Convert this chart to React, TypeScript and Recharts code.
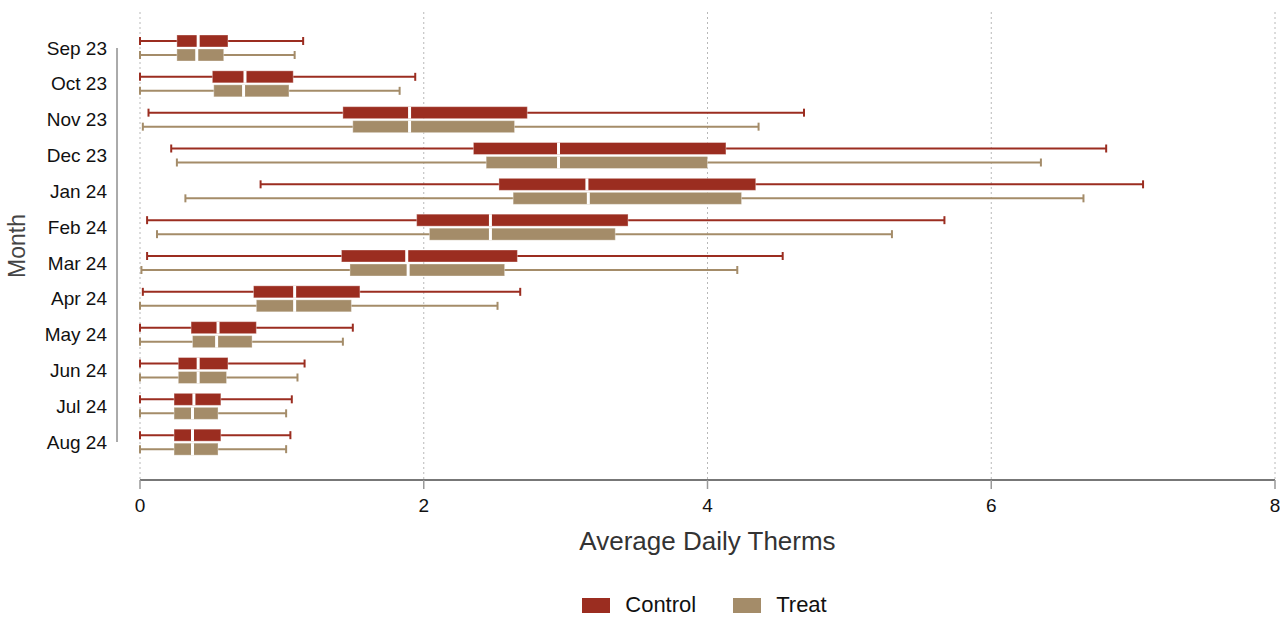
import {
  Bar,
  CartesianGrid,
  ComposedChart,
  Label,
  Legend,
  ReferenceLine,
  XAxis,
  YAxis,
} from "recharts";

const months = [
  "Sep 23",
  "Oct 23",
  "Nov 23",
  "Dec 23",
  "Jan 24",
  "Feb 24",
  "Mar 24",
  "Apr 24",
  "May 24",
  "Jun 24",
  "Jul 24",
  "Aug 24",
];

const controlMin = [0, 0, 0.06, 0.22, 0.85, 0.05, 0.05, 0.02, 0, 0, 0, 0];
const controlQ1 = [0.26, 0.51, 1.43, 2.35, 2.53, 1.95, 1.42, 0.8, 0.36, 0.27, 0.24, 0.24];
const controlMed = [0.41, 0.74, 1.9, 2.95, 3.15, 2.47, 1.88, 1.09, 0.55, 0.41, 0.38, 0.37];
const controlQ3 = [0.62, 1.08, 2.73, 4.13, 4.34, 3.44, 2.66, 1.55, 0.82, 0.62, 0.57, 0.57];
const controlMax = [1.15, 1.94, 4.68, 6.81, 7.07, 5.67, 4.53, 2.68, 1.5, 1.16, 1.07, 1.06];

const treatMin = [0, 0, 0.02, 0.26, 0.32, 0.12, 0.01, 0, 0, 0, 0, 0];
const treatQ1 = [0.26, 0.52, 1.5, 2.44, 2.63, 2.04, 1.48, 0.82, 0.37, 0.27, 0.24, 0.24];
const treatMed = [0.4, 0.73, 1.9, 2.95, 3.16, 2.47, 1.89, 1.09, 0.54, 0.41, 0.37, 0.37];
const treatQ3 = [0.59, 1.05, 2.64, 4.0, 4.24, 3.35, 2.57, 1.49, 0.79, 0.61, 0.55, 0.55];
const treatMax = [1.09, 1.83, 4.36, 6.35, 6.65, 5.3, 4.21, 2.52, 1.43, 1.11, 1.03, 1.03];

const xTicks = [0, 2, 4, 6, 8];

const CONTROL = "#9b2d20";
const TREAT = "#a48c69";
const FONT = '"Liberation Sans", Arial, sans-serif';

const data = months.map((month, i) => ({
  month,
  control: [controlMin[i], controlMax[i]],
  treat: [treatMin[i], treatMax[i]],
  controlBox: [controlQ1[i], controlMed[i], controlQ3[i]],
  treatBox: [treatQ1[i], treatMed[i], treatQ3[i]],
}));

// whisker + box, positioned from the bar's own [min, max] geometry
function BoxShape(props: any) {
  const { x, y, width, height, payload, rangeKey, boxKey, color } = props;
  const [lo, hi] = payload[rangeKey];
  const [q1, med, q3] = payload[boxKey];
  const px = (v: number) => x + ((v - lo) / (hi - lo)) * width;
  const cy = y + height / 2;
  const x0 = px(lo);
  const x1 = px(hi);
  return (
    <g>
      <line x1={x0} x2={x1} y1={cy} y2={cy} stroke={color} strokeWidth={2} />
      <line x1={x0} x2={x0} y1={cy - 4} y2={cy + 4} stroke={color} strokeWidth={2} />
      <line x1={x1} x2={x1} y1={cy - 4} y2={cy + 4} stroke={color} strokeWidth={2} />
      <rect
        x={px(q1)}
        y={y}
        width={px(q3) - px(q1)}
        height={height}
        fill={color}
        stroke="#ffffff"
        strokeOpacity={0.35}
        strokeWidth={1}
      />
      <line x1={px(med)} x2={px(med)} y1={y} y2={y + height} stroke="#ffffff" strokeWidth={3} />
    </g>
  );
}

function LegendContent() {
  const items = [
    { name: "Control", color: CONTROL },
    { name: "Treat", color: TREAT },
  ];
  return (
    <div
      style={{
        display: "flex",
        justifyContent: "center",
        alignItems: "center",
        height: 30,
        fontFamily: FONT,
        fontSize: 22,
        color: "#111",
        gap: 37,
      }}
    >
      {items.map((it) => (
        <div key={it.name} style={{ display: "flex", alignItems: "center" }}>
          <span
            style={{
              display: "inline-block",
              width: 28,
              height: 15,
              background: it.color,
              marginRight: 15,
            }}
          />
          <span>{it.name}</span>
        </div>
      ))}
    </div>
  );
}

export default function App() {
  return (
    <div
      style={{
        position: "absolute",
        left: 0,
        top: 0,
        width: 1280,
        height: 618,
        background: "#fff",
      }}
    >
      <ComposedChart
        width={1280}
        height={618}
        data={data}
        layout="vertical"
        margin={{ top: 12, right: 5, bottom: 0, left: 0 }}
        barGap={2}
        style={{ fontFamily: FONT }}
      >
        <CartesianGrid
          horizontal={false}
          stroke="#b8b8b8"
          strokeDasharray="2 3"
        />
        <XAxis
          type="number"
          domain={[0, 8]}
          ticks={xTicks}
          interval={0}
          height={138}
          tickSize={9}
          tickMargin={10}
          axisLine={{ stroke: "#777", strokeWidth: 2 }}
          tickLine={{ stroke: "#999", strokeWidth: 1.5 }}
          tick={{ fontSize: 19, fill: "#111" }}
        >
          <Label
            value="Average Daily Therms"
            position="insideTop"
            offset={52}
            style={{ fontSize: 26, fill: "#333" }}
          />
        </XAxis>
        <YAxis
          type="category"
          dataKey="month"
          width={140}
          interval={0}
          axisLine={false}
          tickLine={false}
          tickSize={0}
          tickMargin={33}
          padding={{ top: 18, bottom: 20 }}
          tick={{ fontSize: 19, fill: "#111" }}
        >
          <Label
            value="Month"
            angle={-90}
            position="insideLeft"
            offset={17}
            style={{ fontSize: 23, fill: "#444", textAnchor: "middle" }}
          />
        </YAxis>
        <ReferenceLine
          segment={[
            { x: -0.162, y: "Sep 23" },
            { x: -0.162, y: "Aug 24" },
          ]}
          ifOverflow="visible"
          stroke="#aaa"
          strokeWidth={2}
        />
        <Bar
          dataKey="control"
          name="Control"
          barSize={12}
          fill={CONTROL}
          isAnimationActive={false}
          shape={(p: any) => (
            <BoxShape {...p} rangeKey="control" boxKey="controlBox" color={CONTROL} />
          )}
        />
        <Bar
          dataKey="treat"
          name="Treat"
          barSize={12}
          fill={TREAT}
          isAnimationActive={false}
          shape={(p: any) => (
            <BoxShape {...p} rangeKey="treat" boxKey="treatBox" color={TREAT} />
          )}
        />
        <Legend
          layout="horizontal"
          verticalAlign="middle"
          align="center"
          wrapperStyle={{ top: 590, left: 137, width: 1135, height: 30 }}
          content={() => <LegendContent />}
        />
      </ComposedChart>
    </div>
  );
}
